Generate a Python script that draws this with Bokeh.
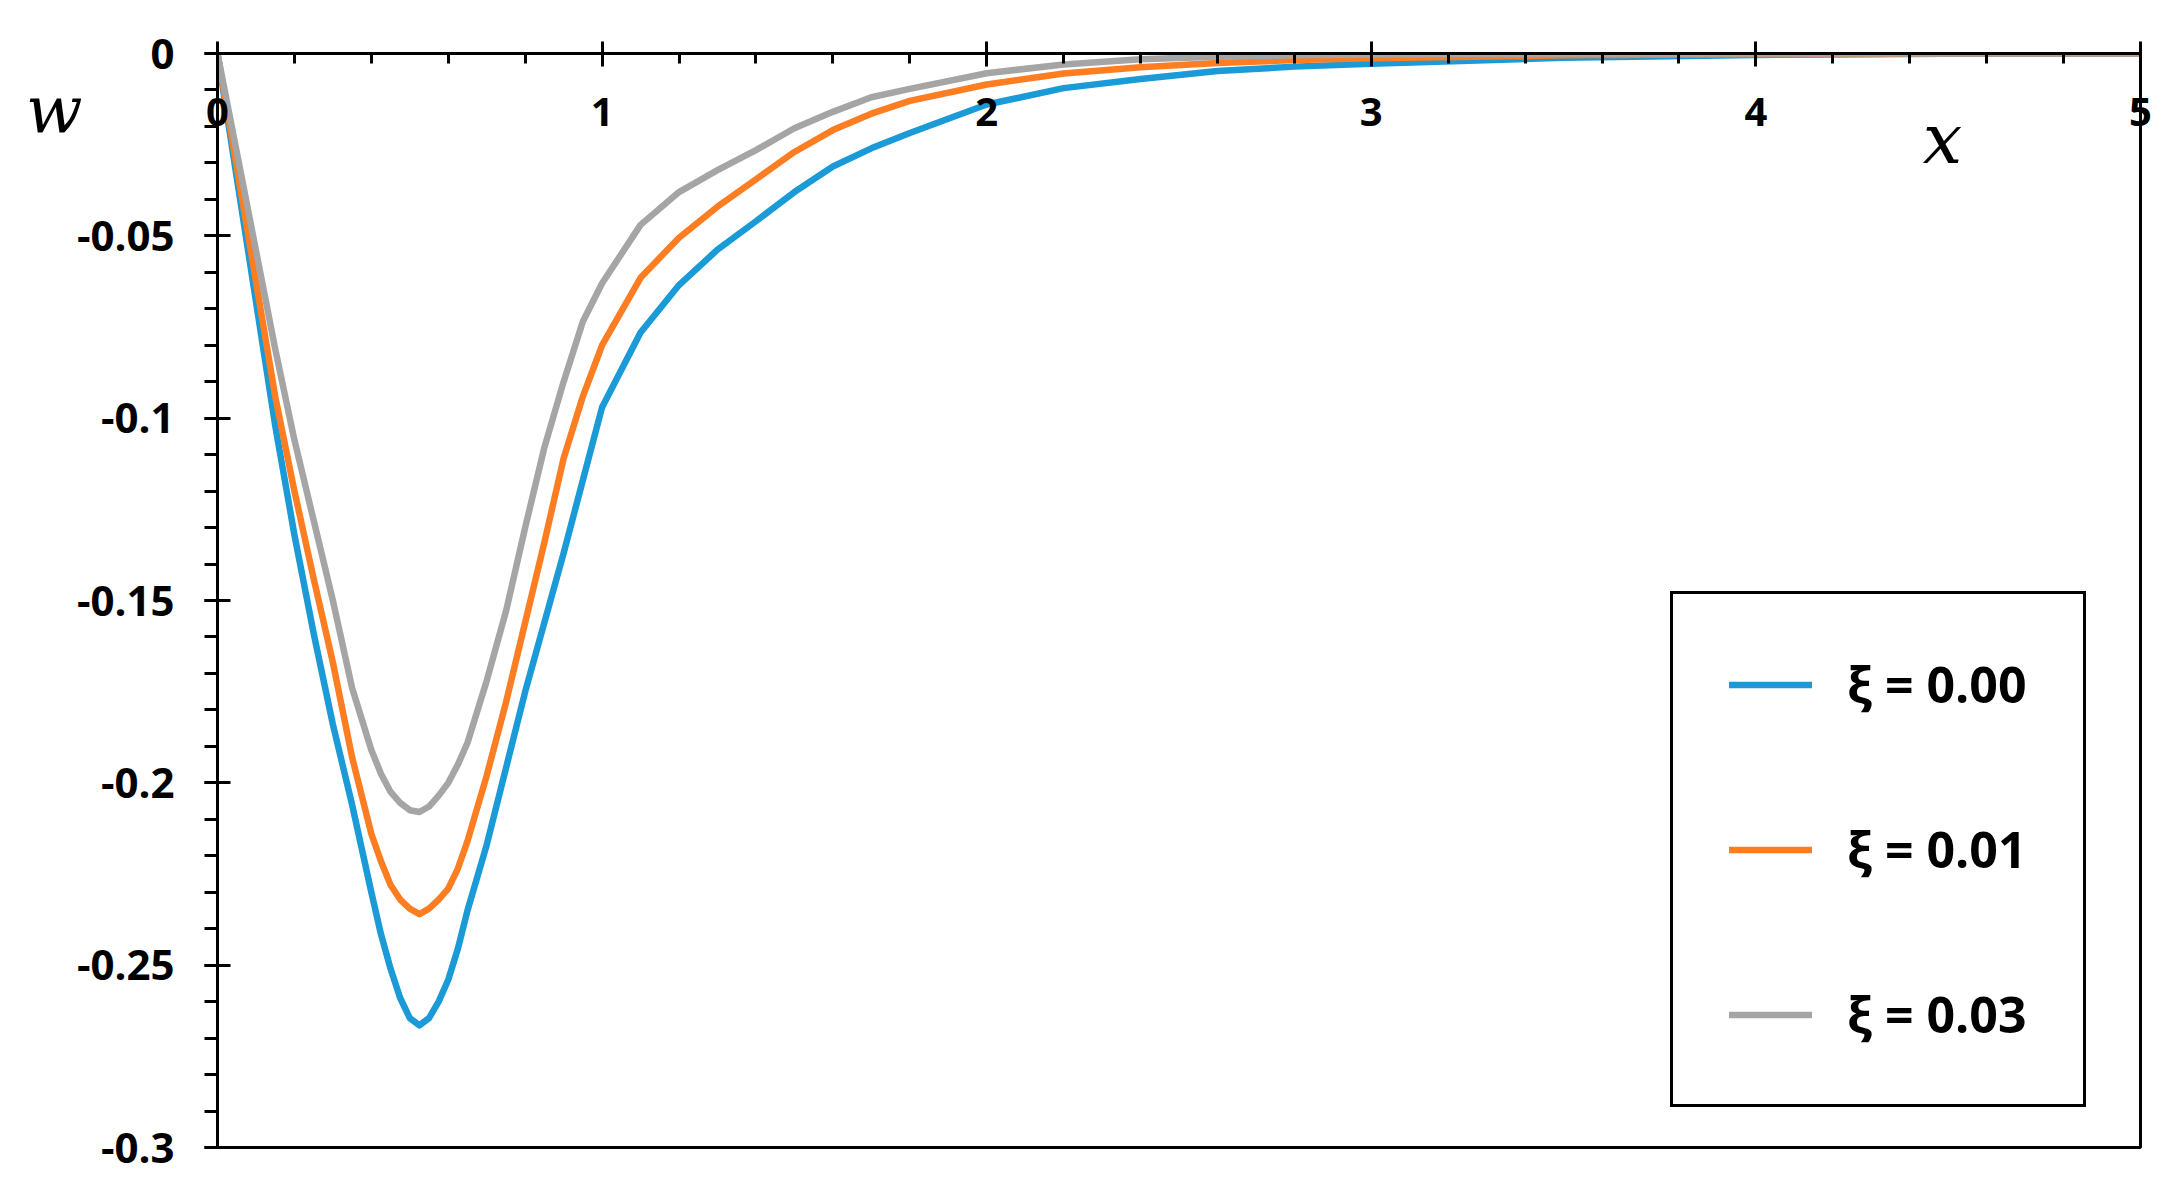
from bokeh.plotting import figure
from bokeh.models import Range1d, FixedTicker, CustomJSTickFormatter, Label, LinearAxis
from bokeh.embed import file_html
from bokeh.resources import INLINE

# ---- data ----
x_vals = [0, 0.05, 0.1, 0.15, 0.2, 0.25, 0.3, 0.35, 0.4, 0.425, 0.45, 0.475, 0.5, 0.525, 0.55, 0.575,
          0.6, 0.625, 0.65, 0.7, 0.75, 0.8, 0.85, 0.9, 0.95, 1.0, 1.1, 1.2, 1.3, 1.4, 1.5, 1.6, 1.7,
          1.8, 2.0, 2.2, 2.4, 2.6, 2.8, 3.0, 3.5, 4.0, 4.5, 5.0]

w_xi000 = [0, -0.034, -0.068, -0.102, -0.132, -0.159, -0.184, -0.206, -0.230, -0.2415, -0.251, -0.259,
           -0.2645, -0.2665, -0.2645, -0.260,
           -0.254, -0.2455, -0.235, -0.217, -0.196, -0.175, -0.156, -0.137, -0.117, -0.097, -0.0765,
           -0.0635, -0.0538, -0.046, -0.038, -0.031, -0.026,
           -0.0218, -0.014, -0.0095, -0.007, -0.0048, -0.0036, -0.0028, -0.0012, -0.0004, -0.0001, 0]

w_xi001 = [0, -0.031, -0.0625, -0.094, -0.120, -0.144, -0.167, -0.193, -0.214, -0.2215, -0.228, -0.232,
           -0.2345, -0.236, -0.2345, -0.232,
           -0.229, -0.2235, -0.216, -0.198, -0.178, -0.156, -0.134, -0.111, -0.094, -0.080, -0.0615,
           -0.0505, -0.042, -0.0345, -0.027, -0.021, -0.0165,
           -0.013, -0.0085, -0.0055, -0.0038, -0.0026, -0.0018, -0.0013, -0.0005, -0.0002, 0, 0]

w_xi003 = [0, -0.027, -0.054, -0.081, -0.106, -0.128, -0.150, -0.174, -0.191, -0.1975, -0.2025, -0.2055,
           -0.2075, -0.208, -0.2065, -0.2035,
           -0.200, -0.195, -0.189, -0.172, -0.153, -0.130, -0.108, -0.090, -0.0735, -0.063, -0.047,
           -0.038, -0.032, -0.0265, -0.0205, -0.016, -0.012,
           -0.0097, -0.0054, -0.003, -0.0016, -0.0009, -0.0005, -0.0003, 0, 0, 0, 0]

series_names = ["ξ = 0.00", "ξ = 0.01", "ξ = 0.03"]
series_colors = ["#1a9ad6", "#fd7d22", "#a5a5a5"]

x_ticks = [0, 1, 2, 3, 4, 5]
x_minor = [0.2 * i for i in range(26)]
y_ticks = [0, -0.05, -0.1, -0.15, -0.2, -0.25, -0.3]
y_minor = [-0.01 * i for i in range(31)]

y_name = "w"
x_name = "x"

FONT = "Open Sans"

p = figure(width=2159, height=1181, output_backend="svg", toolbar_location=None,
           x_range=Range1d(0, 5), y_range=Range1d(-0.3, 0),
           x_axis_location=None, y_axis_location=None,
           min_border_left=217, min_border_right=19, min_border_top=53, min_border_bottom=34)
p.background_fill_color = "white"
p.border_fill_color = "white"
p.xgrid.visible = False
p.ygrid.visible = False
p.outline_line_color = "black"
p.outline_line_width = 3
p.outline_line_alpha = 1

for ys, name, col in zip([w_xi000, w_xi001, w_xi003], series_names, series_colors):
    p.line(x_vals, ys, line_color=col, line_width=6.5, line_join="round", line_cap="round",
           legend_label=name)

# x axis on top (at w = 0), labels drawn below the line
xax = LinearAxis(ticker=FixedTicker(ticks=x_ticks, minor_ticks=x_minor))
xax.axis_line_width = 3
xax.major_tick_line_width = 3
xax.minor_tick_line_width = 3
xax.major_tick_out = 12
xax.major_tick_in = 13
xax.minor_tick_out = 0
xax.minor_tick_in = 10
xax.major_label_standoff = -84
xax.major_label_text_font = FONT
xax.major_label_text_font_style = "bold"
xax.major_label_text_font_size = "40px"
xax.major_label_text_color = "black"
p.add_layout(xax, "above")

yax = LinearAxis(ticker=FixedTicker(ticks=y_ticks, minor_ticks=y_minor))
yax.formatter = CustomJSTickFormatter(code="return String(Math.round(tick*100)/100);")
yax.axis_line_width = 3
yax.major_tick_line_width = 3
yax.minor_tick_line_width = 3
yax.major_tick_out = 13
yax.major_tick_in = 13
yax.minor_tick_out = 13
yax.minor_tick_in = 0
yax.major_label_standoff = 30
yax.major_label_text_font = FONT
yax.major_label_text_font_style = "bold"
yax.major_label_text_font_size = "42px"
yax.major_label_text_color = "black"
p.add_layout(yax, "left")

# the italic "w" name of the vertical axis, near its top
wax = LinearAxis(ticker=FixedTicker(ticks=[-0.0156]),
                 formatter=CustomJSTickFormatter(code="return '%s';" % y_name))
wax.axis_line_color = None
wax.major_tick_line_color = None
wax.minor_tick_line_color = None
wax.major_tick_out = 0
wax.major_tick_in = 0
wax.major_label_standoff = -9
wax.major_label_text_font = "DejaVu Serif"
wax.major_label_text_font_style = "italic"
wax.major_label_text_font_size = "66px"
wax.major_label_text_color = "black"
p.add_layout(wax, "left")

p.add_layout(Label(x=4.485, y=-0.0235, text=x_name, text_font="DejaVu Serif",
                   text_font_style="italic", text_font_size="70px", text_align="center",
                   text_baseline="middle", text_color="black"))

lg = p.legend[0]
lg.location = (1453, 40)
lg.border_line_color = "black"
lg.border_line_width = 3
lg.border_line_alpha = 1
lg.background_fill_color = "white"
lg.background_fill_alpha = 1
lg.padding = 56
lg.margin = 0
lg.spacing = 97
lg.glyph_width = 83
lg.glyph_height = 67
lg.label_height = 67
lg.label_standoff = 35
lg.label_text_font = FONT
lg.label_text_font_style = "bold"
lg.label_text_font_size = "50px"
lg.label_text_color = "black"
lg.label_text_baseline = "middle"

open("out.html", "w").write(file_html(p, INLINE))
